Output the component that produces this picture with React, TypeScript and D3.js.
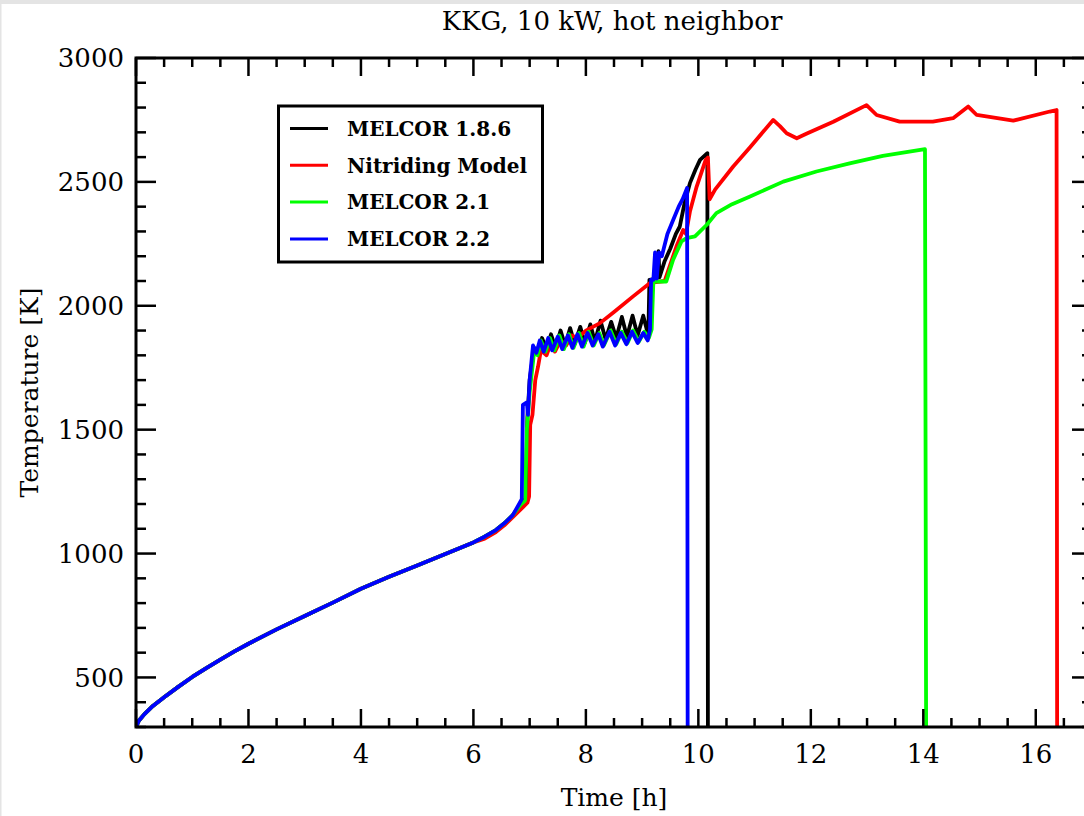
import * as d3 from 'd3';

// temperature [K] vs time [h]
const baseRise: [number, number][] = [
  [0, 300], [0.05, 325], [0.15, 352], [0.3, 385], [0.5, 420], [0.75, 462], [1, 502],
  [1.25, 538], [1.5, 572], [1.75, 605], [2, 636], [2.5, 694], [3, 748], [3.5, 802],
  [4, 858], [4.5, 906], [5, 952], [5.5, 998], [6, 1045], [6.2, 1068], [6.4, 1095],
  [6.55, 1122], [6.7, 1155],
];

const melcor186: [number, number][] = [
  [6.85, 1200], [6.93, 1222], [6.96, 1550], [7.0, 1700], [7.08, 1830],
  [7.15, 1810], [7.22, 1870], [7.3, 1825], [7.38, 1885], [7.46, 1830],
  [7.55, 1900], [7.63, 1840], [7.72, 1910], [7.8, 1845], [7.9, 1915],
  [7.98, 1850], [8.08, 1925], [8.16, 1855], [8.26, 1940], [8.35, 1865],
  [8.45, 1935], [8.54, 1870], [8.64, 1955], [8.73, 1875], [8.83, 1960],
  [8.92, 1880], [9.02, 1960], [9.11, 1880], [9.13, 2105], [9.26, 2110],
  [9.29, 2220], [9.31, 2115], [9.4, 2180], [9.5, 2230], [9.6, 2290],
  [9.67, 2320], [9.76, 2420], [9.85, 2495], [9.95, 2550], [10.03, 2589],
  [10.16, 2616], [10.17, 300],
];

const nitriding: [number, number][] = [
  [6.85, 1180], [6.96, 1205], [6.99, 1230], [7.01, 1520], [7.05, 1560],
  [7.1, 1700], [7.15, 1755], [7.2, 1820], [7.3, 1800], [7.38, 1850],
  [7.45, 1815], [7.55, 1860], [7.65, 1840], [7.75, 1880], [7.85, 1870],
  [8.0, 1900], [8.25, 1930], [8.5, 1975], [8.84, 2038], [9.14, 2092],
  [9.4, 2100], [9.61, 2239], [9.73, 2306], [9.78, 2290], [9.85, 2380],
  [9.97, 2481], [10.13, 2589], [10.17, 2598], [10.2, 2430], [10.3, 2470],
  [10.62, 2562], [10.92, 2640], [11.33, 2750], [11.45, 2725], [11.57, 2696],
  [11.75, 2676], [11.92, 2694], [12.4, 2743], [12.99, 2810], [13.17, 2770],
  [13.58, 2743], [14.17, 2743], [14.53, 2757], [14.8, 2804], [14.95, 2770],
  [15.6, 2747], [16.25, 2784], [16.37, 2790], [16.38, 300],
];

const melcor21: [number, number][] = [
  [6.84, 1198], [6.92, 1215], [6.95, 1500], [7.0, 1650], [7.08, 1815],
  [7.14, 1800], [7.2, 1860], [7.28, 1815], [7.36, 1870], [7.44, 1820],
  [7.53, 1880], [7.61, 1825], [7.7, 1885], [7.78, 1830], [7.88, 1890],
  [7.96, 1835], [8.05, 1895], [8.14, 1840], [8.24, 1890], [8.32, 1840],
  [8.44, 1900], [8.54, 1845], [8.64, 1895], [8.74, 1850], [8.84, 1900],
  [8.94, 1855], [9.04, 1895], [9.12, 1870], [9.17, 1905], [9.2, 2098],
  [9.43, 2098], [9.55, 2185], [9.7, 2260], [9.79, 2273], [9.94, 2280],
  [10.15, 2327], [10.32, 2374], [10.6, 2410], [10.92, 2441], [11.51, 2501],
  [12.1, 2542], [12.69, 2575], [13.28, 2605], [14.03, 2632], [14.05, 300],
];

const melcor22: [number, number][] = [
  [6.8, 1195], [6.86, 1220], [6.88, 1600], [6.95, 1610], [6.97, 1560],
  [7.0, 1700], [7.06, 1840], [7.12, 1810], [7.18, 1860], [7.25, 1815],
  [7.33, 1870], [7.4, 1820], [7.5, 1875], [7.58, 1825], [7.68, 1880],
  [7.76, 1830], [7.85, 1885], [7.93, 1835], [8.03, 1890], [8.12, 1840],
  [8.22, 1885], [8.3, 1835], [8.42, 1895], [8.52, 1840], [8.62, 1890],
  [8.72, 1845], [8.82, 1895], [8.92, 1850], [9.02, 1890], [9.1, 1860],
  [9.14, 1905], [9.16, 2105], [9.2, 2105], [9.23, 2215], [9.26, 2110],
  [9.3, 2215], [9.35, 2200], [9.45, 2290], [9.55, 2345], [9.65, 2400],
  [9.72, 2430], [9.8, 2475], [9.81, 300],
];

const seriesNames = ['MELCOR 1.8.6', 'Nitriding Model', 'MELCOR 2.1', 'MELCOR 2.2'];
const seriesColors = ['#000000', '#ff0000', '#00ff00', '#0000ff'];
const seriesData = [
  baseRise.concat(melcor186),
  baseRise.map(([t, v]) => [t, t > 6 ? v - 8 : v] as [number, number]).concat(nitriding),
  baseRise.concat(melcor21),
  baseRise.concat(melcor22),
];

const xTicks = [0, 2, 4, 6, 8, 10, 12, 14, 16];
const yTicks = [500, 1000, 1500, 2000, 2500, 3000];

const W = 1084;
const H = 816;
const left = 136;
const right = 1092;
const top = 58;
const bottom = 727;
const font = "'DejaVu Serif', serif";

export default function App() {
  const x = d3.scaleLinear().domain([0, 17]).range([left, right]);
  const y = d3.scaleLinear().domain([300, 3000]).range([bottom, top]);
  const line = d3.line<[number, number]>().x(d => x(d[0])).y(d => y(d[1]));

  const xMinor = d3.range(0, 17.01, 0.5);
  const yMinor = d3.range(300, 3001, 100);

  return (
    <div style={{ position: 'absolute', left: 0, top: 0, width: W, height: H, overflow: 'hidden', background: '#fff' }}>
      <svg width={W} height={H} style={{ display: 'block' }}>
        <rect x={0} y={0} width={W} height={4} fill="#e4e4e4" />
        <rect x={0} y={0} width={1.5} height={H} fill="#e4e4e4" />
        <defs>
          <clipPath id="plot">
            <rect x={left} y={top} width={right - left} height={bottom - top} />
          </clipPath>
        </defs>

        <text x={(left + right) / 2 - 2} y={30} textAnchor="middle" fontFamily={font} fontSize={26}>
          KKG, 10 kW, hot neighbor
        </text>

        <g clipPath="url(#plot)">
          {seriesData.map((d, i) => (
            <path key={i} d={line(d) || ''} fill="none" stroke={seriesColors[i]} strokeWidth={3.8} strokeLinejoin="round" />
          ))}
        </g>

        {/* ticks */}
        <g stroke="#000" strokeWidth={2.5}>
          {xMinor.map(t => {
            const len = t % 2 === 0 ? 18 : 9;
            return (
              <g key={'x' + t}>
                <line x1={x(t)} x2={x(t)} y1={bottom} y2={bottom - len} />
                <line x1={x(t)} x2={x(t)} y1={top} y2={top + len} />
              </g>
            );
          })}
          {yMinor.map(v => {
            const len = v % 500 === 0 ? 20 : 10;
            return (
              <g key={'y' + v}>
                <line x1={left} x2={left + len} y1={y(v)} y2={y(v)} />
                <line x1={right} x2={right - len} y1={y(v)} y2={y(v)} />
              </g>
            );
          })}
        </g>
        <rect x={left} y={top} width={right - left} height={bottom - top} fill="none" stroke="#000" strokeWidth={3} />

        {xTicks.map(t => (
          <text key={t} x={x(t)} y={763} textAnchor="middle" fontFamily={font} fontSize={26}>{t}</text>
        ))}
        {yTicks.map(v => (
          <text key={v} x={124} y={y(v)} dy="0.36em" textAnchor="end" fontFamily={font} fontSize={26}>{v}</text>
        ))}

        <text x={(left + right) / 2} y={806} textAnchor="middle" fontFamily={font} fontSize={25}>Time [h]</text>
        <text transform={`translate(38,${(top + bottom) / 2}) rotate(-90)`} textAnchor="middle" fontFamily={font} fontSize={25}>
          Temperature [K]
        </text>

        {/* legend */}
        <rect x={278.5} y={106} width={264} height={156} fill="#fff" stroke="#000" strokeWidth={3} />
        {seriesNames.map((n, i) => {
          const ly = 128.5 + i * 36.8;
          return (
            <g key={n}>
              <line x1={290} x2={328} y1={ly} y2={ly} stroke={seriesColors[i]} strokeWidth={3} />
              <text x={347} y={ly} dy="0.36em" fontFamily={font} fontWeight="bold" fontSize={20}>{n}</text>
            </g>
          );
        })}
      </svg>
    </div>
  );
}
